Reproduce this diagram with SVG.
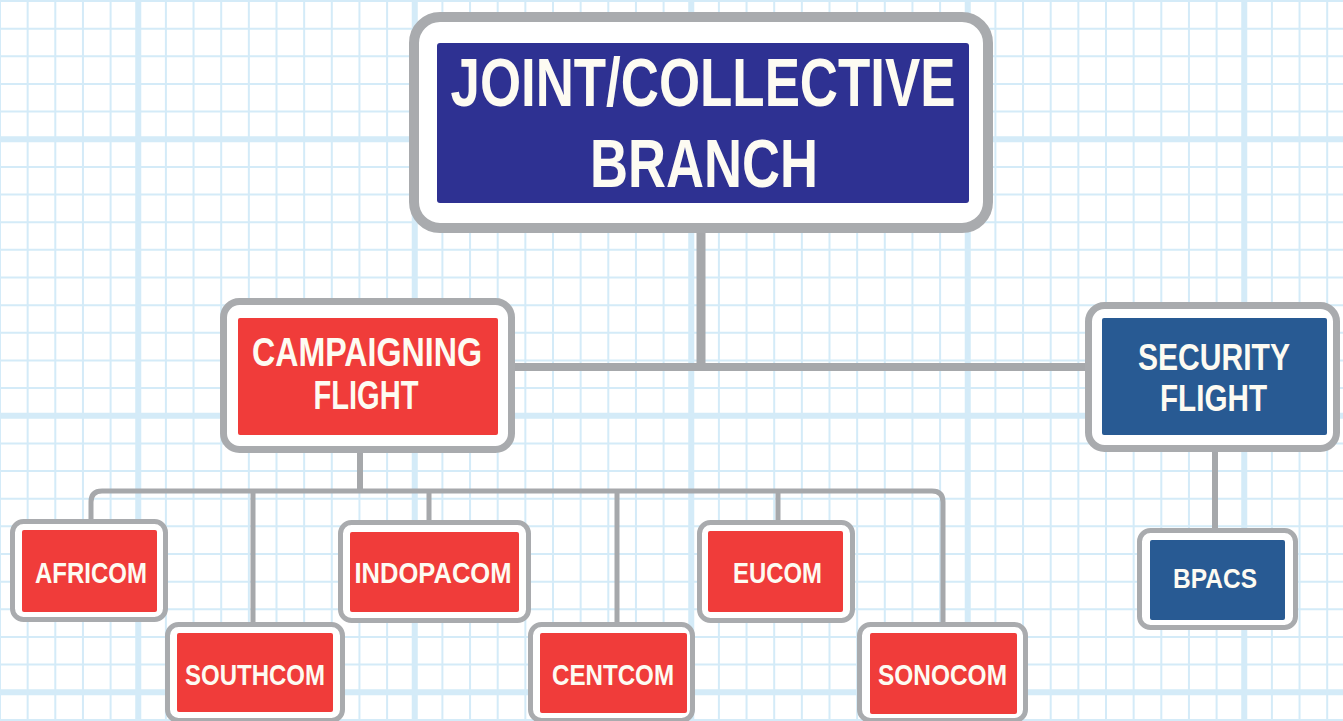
<svg xmlns="http://www.w3.org/2000/svg" width="1343" height="721" viewBox="0 0 1343 721">
<style>
.minor{stroke:#d4ebf8;stroke-width:2;fill:none}
.major{stroke:#d4ebf8;stroke-width:6;fill:none}
.frame{fill:#ffffff;stroke:#a9abae}
.f-l{stroke-width:10}
.f-m{stroke-width:7}
.f-s{stroke-width:5}
.navy{fill:#2e3192}
.steel{fill:#285a93}
.red{fill:#f03c3a}
.lbl{font-family:"Liberation Sans",Arial,sans-serif;font-weight:bold;fill:#fdfbf2;text-anchor:middle}
.conn{stroke:#a6a8ab;fill:none;stroke-linecap:butt;stroke-linejoin:round}
</style>
<rect width="1343" height="721" fill="#ffffff"/>
<g id="grid">
<path class="minor" d="M0 0V721M27.65 0V721M55.3 0V721M82.95 0V721M110.6 0V721M165.9 0V721M193.55 0V721M221.2 0V721M248.85 0V721M276.5 0V721M304.15 0V721M331.8 0V721M359.45 0V721M387.1 0V721M442.4 0V721M470.05 0V721M497.7 0V721M525.35 0V721M553 0V721M580.65 0V721M608.3 0V721M635.95 0V721M663.6 0V721M718.9 0V721M746.55 0V721M774.2 0V721M801.85 0V721M829.5 0V721M857.15 0V721M884.8 0V721M912.45 0V721M940.1 0V721M995.4 0V721M1023.05 0V721M1050.7 0V721M1078.35 0V721M1106 0V721M1133.65 0V721M1161.3 0V721M1188.95 0V721M1216.6 0V721M1271.9 0V721M1299.55 0V721M1327.2 0V721
M0 1H1343M0 28.65H1343M0 56.3H1343M0 83.95H1343M0 111.6H1343M0 166.9H1343M0 194.55H1343M0 222.2H1343M0 249.85H1343M0 277.5H1343M0 305.15H1343M0 332.8H1343M0 360.45H1343M0 388.1H1343M0 443.4H1343M0 471.05H1343M0 498.7H1343M0 526.35H1343M0 554H1343M0 581.65H1343M0 609.3H1343M0 636.95H1343M0 664.6H1343M0 719.9H1343"/>
<path class="major" d="M138.25 0V721M414.75 0V721M691.25 0V721M967.75 0V721M1244.25 0V721M0 139.25H1343M0 415.75H1343M0 692.25H1343"/>
</g>
<g id="connectors">
<path class="conn" stroke-width="9" d="M701 232V367"/>
<path class="conn" stroke-width="8" d="M513 367H1086"/>
<path class="conn" stroke-width="6" d="M360 452V491"/>
<path class="conn" stroke-width="5" d="M91 521V502Q91 491 102 491H932Q943 491 943 502V623"/>
<path class="conn" stroke-width="5" d="M253 491V623M429 491V521M617 491V623M778 491V521"/>
<path class="conn" stroke-width="6" d="M1215 451V529"/>
</g>
<g id="joint-collective-branch">
<rect class="frame f-l" x="414" y="17" width="574" height="211" rx="26"/>
<rect class="navy" x="437" y="43" width="532" height="160" rx="3"/>
<text class="lbl" x="703" y="106" font-size="68" textLength="505" lengthAdjust="spacingAndGlyphs">JOINT/COLLECTIVE</text>
<text class="lbl" x="704" y="187" font-size="68" textLength="228" lengthAdjust="spacingAndGlyphs">BRANCH</text>
</g>
<g id="campaigning-flight">
<rect class="frame f-m" x="223.5" y="301.5" width="288" height="148" rx="16"/>
<rect class="red" x="238" y="318" width="260" height="117" rx="2"/>
<text class="lbl" x="367" y="366" font-size="40" textLength="230" lengthAdjust="spacingAndGlyphs">CAMPAIGNING</text>
<text class="lbl" x="366" y="409" font-size="40" textLength="105" lengthAdjust="spacingAndGlyphs">FLIGHT</text>
</g>
<g id="security-flight">
<rect class="frame f-m" x="1088.5" y="305.5" width="248" height="143" rx="16"/>
<rect class="steel" x="1102" y="318" width="225" height="117" rx="2"/>
<text class="lbl" x="1214" y="370" font-size="37" textLength="152" lengthAdjust="spacingAndGlyphs">SECURITY</text>
<text class="lbl" x="1213.5" y="411" font-size="37" textLength="107" lengthAdjust="spacingAndGlyphs">FLIGHT</text>
</g>
<g id="bpacs">
<rect class="frame f-s" x="1139.5" y="530.5" width="156" height="97" rx="11"/>
<rect class="steel" x="1150" y="540" width="135" height="80" rx="2"/>
<text class="lbl" x="1215" y="588" font-size="28" textLength="84" lengthAdjust="spacingAndGlyphs">BPACS</text>
</g>
<g id="africom">
<rect class="frame f-s" x="12.5" y="521.5" width="153" height="98" rx="11"/>
<rect class="red" x="22" y="530" width="135" height="82" rx="2"/>
<text class="lbl" x="91" y="583" font-size="30" textLength="112" lengthAdjust="spacingAndGlyphs">AFRICOM</text>
</g>
<g id="indopacom">
<rect class="frame f-s" x="340.5" y="522.5" width="188" height="98" rx="11"/>
<rect class="red" x="350" y="532" width="169" height="80" rx="2"/>
<text class="lbl" x="433" y="583" font-size="30" textLength="157" lengthAdjust="spacingAndGlyphs">INDOPACOM</text>
</g>
<g id="eucom">
<rect class="frame f-s" x="699.5" y="522.5" width="153" height="98" rx="11"/>
<rect class="red" x="708" y="531" width="135" height="81" rx="2"/>
<text class="lbl" x="777.5" y="583" font-size="30" textLength="89" lengthAdjust="spacingAndGlyphs">EUCOM</text>
</g>
<g id="southcom">
<rect class="frame f-s" x="167.5" y="624.5" width="175" height="96" rx="11"/>
<rect class="red" x="177" y="633" width="156" height="79" rx="2"/>
<text class="lbl" x="255" y="685" font-size="30" textLength="140" lengthAdjust="spacingAndGlyphs">SOUTHCOM</text>
</g>
<g id="centcom">
<rect class="frame f-s" x="530.5" y="624.5" width="162" height="96" rx="11"/>
<rect class="red" x="540" y="633" width="147" height="80" rx="2"/>
<text class="lbl" x="613" y="685" font-size="30" textLength="122" lengthAdjust="spacingAndGlyphs">CENTCOM</text>
</g>
<g id="sonocom">
<rect class="frame f-s" x="859.5" y="624.5" width="166" height="96" rx="11"/>
<rect class="red" x="870" y="633" width="147" height="81" rx="2"/>
<text class="lbl" x="942.5" y="685" font-size="30" textLength="129" lengthAdjust="spacingAndGlyphs">SONOCOM</text>
</g>
</svg>
